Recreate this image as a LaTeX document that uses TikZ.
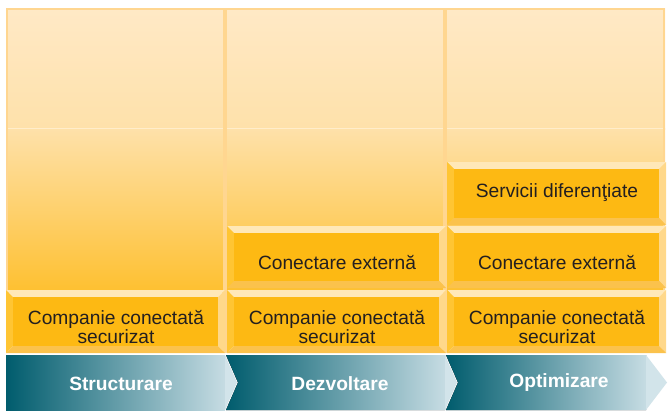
\documentclass[tikz,border=0pt]{standalone}
\usepackage{fontspec}
\setmainfont{Liberation Sans}
\usetikzlibrary{calc}
\definecolor{coltop}{HTML}{FFE9C6}
\definecolor{colmid}{HTML}{FEE1AA}
\definecolor{colbot}{HTML}{FEC030}
\definecolor{colborder}{HTML}{FFD690}
\definecolor{hline}{HTML}{FFEDCB}
\definecolor{facec}{HTML}{FDB913}
\definecolor{btop}{HTML}{FFE8B8}
\definecolor{bleft}{HTML}{FFC533}
\definecolor{bright}{HTML}{FFD88A}
\definecolor{bbot}{HTML}{FBC24C}
\definecolor{tdark}{HTML}{005C6D}
\definecolor{tlight}{HTML}{C6DCE3}
\definecolor{ttip}{HTML}{D2E4EA}
\definecolor{txt}{HTML}{231F20}
\tikzset{
  blocktext/.style={inner sep=0pt, align=center, text=txt, font=\fontsize{19.2}{17}\selectfont},
  chevtext/.style={inner sep=0pt, text=white, font=\bfseries\fontsize{19.2}{20}\selectfont},
  colfilltop/.style={top color=coltop, bottom color=colmid},
  colfillbot/.style={top color=colmid, bottom color=colbot},
  colline/.style={draw=colborder, line width=2.5pt},
  chevbody/.style={left color=tdark, right color=tlight},
  chevtip/.style={fill=ttip},
}
\newcommand{\bevblock}[4]{%
  \fill[btop] (#1,#2) -- (#3,#2) -- ({#3-7},{#2+7}) -- ({#1+7},{#2+7}) -- cycle;
  \fill[bleft] (#1,#2) -- ({#1+7},{#2+7}) -- ({#1+7},{#4-7}) -- (#1,#4) -- cycle;
  \fill[bright] (#3,#2) -- (#3,#4) -- ({#3-7},{#4-7}) -- ({#3-7},{#2+7}) -- cycle;
  \fill[bbot] (#1,#4) -- ({#1+7},{#4-7}) -- ({#3-7},{#4-7}) -- (#3,#4) -- cycle;
  \fill[facec] ({#1+7},{#2+7}) rectangle ({#3-7},{#4-7});
}
\begin{document}
\begin{tikzpicture}[x=1pt,y=-1pt]
\useasboundingbox (0,0) rectangle (668,410);
\fill[white] (0,0) rectangle (668,410);
% background columns
\foreach \a/\b in {6/225,225/445,445/665}{
  \fill[colfilltop] (\a,8) rectangle (\b,129);
  \fill[colfillbot] (\a,128) rectangle (\b,292);
  \draw[hline, line width=1.5pt] ({\a+2},128.5) -- ({\b-2},128.5);
  \draw[colline] ({\a+1},{9}) rectangle ({\b-1},352);
}
% blocks
\bevblock{6}{290}{225}{353}
\node[blocktext] (c1) at (116,327) {Companie conectată\\securizat};
\bevblock{227}{226}{446}{288}
\node[blocktext] (e2) at (337,263) {Conectare externă};
\bevblock{227}{290}{446}{353}
\node[blocktext] (c2) at (337,327) {Companie conectată\\securizat};
\bevblock{447}{162}{666}{225}
\node[blocktext] (s3) at (557,193) {Servicii diferenţiate};
\bevblock{447}{226}{666}{288}
\node[blocktext] (e3) at (557,263) {Conectare externă};
\bevblock{447}{290}{666}{353}
\node[blocktext] (c3) at (557,327) {Companie conectată\\securizat};
% chevrons
\fill[chevbody] (6,355) -- (225,355) -- (225,410) -- (6,410) -- cycle;
\fill[chevtip] (225,355) -- (237,382.5) -- (225,410) -- cycle;
\fill[chevbody] (226,355) -- (445,355) -- (445,410) -- (226,410) -- (238,382.5) -- cycle;
\fill[chevtip] (445,355) -- (457,382.5) -- (445,410) -- cycle;
\fill[chevbody] (446,355) -- (646,355) -- (646,410) -- (446,410) -- (458,382.5) -- cycle;
\fill[chevtip] (646,355) -- (667,382.5) -- (646,410) -- cycle;
\node[chevtext] (p1) at (121,384) {Structurare};
\node[chevtext] (p2) at (340,384) {Dezvoltare};
\node[chevtext] (p3) at (559,383) {Optimizare};
\end{tikzpicture}
\end{document}
